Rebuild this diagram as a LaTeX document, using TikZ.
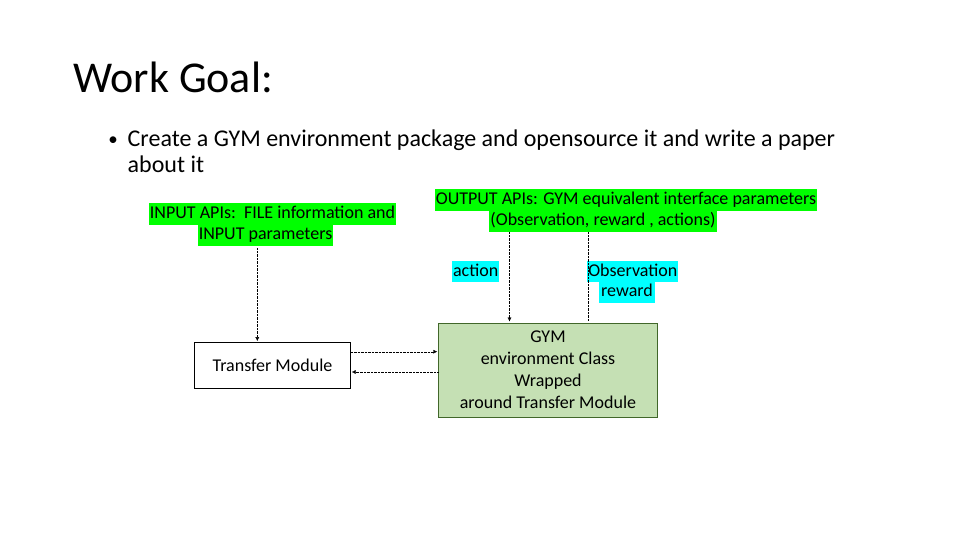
\documentclass[tikz,border=0pt]{standalone}
\usepackage{fontspec}
\setmainfont{Carlito}
\usetikzlibrary{arrows.meta}
\definecolor{hlgreen}{HTML}{00FF00}
\definecolor{hlcyan}{HTML}{00FFFF}
\definecolor{gymfill}{HTML}{C5E0B4}
\definecolor{gymdraw}{HTML}{41672A}

\begin{document}
\begin{tikzpicture}[x=1pt, y=-1pt, shorten >=1pt,
		label_style/.style={fill=hlgreen,inner xsep=1pt,inner ysep=0pt,minimum height=21.5pt,text height=13pt,text depth=4pt,font=\fontsize{18}{22}\selectfont},
		cyan_style/.style={label_style,fill=hlcyan},
		box_style/.style={rectangle,draw=black,align=center,font=\fontsize{18}{22}\selectfont},
		edge_style/.style={draw=black,densely dotted,-{Latex[length=4pt,width=4pt]}}]
		\useasboundingbox (0,0) rectangle (960,540);
		\node[anchor=base west,inner sep=0pt,font=\fontsize{44}{50}\selectfont] (title) at (73,93) {Work Goal:};
		\node[anchor=base,inner sep=0pt,font=\fontsize{19}{22}\selectfont] (bullet) at (113,146) {•};
		\node[anchor=base west,inner sep=0pt,font=\fontsize{24}{26}\selectfont] (goal_a) at (127.5,147) {Create a GYM environment package and opensource it and write a paper};
		\node[anchor=base west,inner sep=0pt,font=\fontsize{24}{26}\selectfont] (goal_b) at (127.5,172) {about it};
		\node[label_style] (in_a) at (272.5,214) {INPUT APIs:\ \ FILE information and};
		\node[label_style] (in_b) at (265.5,235) {INPUT parameters};
		\node[label_style] (out_a) at (626,200) {OUTPUT APIs: GYM equivalent interface parameters};
		\node[label_style] (out_b) at (603,221) {(Observation, reward , actions)};
		\node[cyan_style] (act) at (475.7,271.5) {action};
		\node[cyan_style] (obs_a) at (632.8,271.5) {Observation};
		\node[cyan_style,inner xsep=2.5pt] (obs_b) at (627,292) {reward};
		\node[box_style,minimum width=156pt,minimum height=46pt] (tm) at (272.5,365.3) {Transfer Module};
		\node[box_style,draw=gymdraw,fill=gymfill,minimum width=219pt,minimum height=94pt] (gym) at (548,369.7) {GYM\\environment Class\\Wrapped\\around Transfer Module};
		\coordinate (in_top) at (257.3,248);
		\coordinate (act_top) at (509.5,232);
		\coordinate (obs_top) at (587.7,232);
		\coordinate (up_y) at (0,351.7);
		\coordinate (dn_y) at (0,372);
		\draw[edge_style]  (in_top) -- (in_top |- tm.north);
		\draw[edge_style]  (act_top) -- (act_top |- gym.north);
		\draw[edge_style,-]  (obs_top) -- (obs_top |- gym.north);
		\draw[edge_style]  (tm.east |- up_y) -- (gym.west |- up_y);
		\draw[edge_style]  (gym.west |- dn_y) -- (tm.east |- dn_y);
\end{tikzpicture}
\end{document}
